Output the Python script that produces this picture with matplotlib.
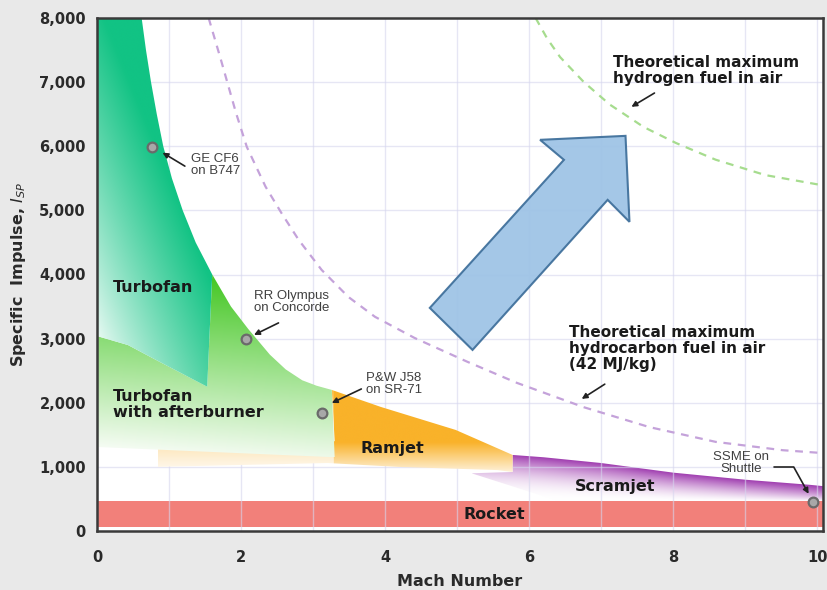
import numpy as np
import matplotlib
matplotlib.use("Agg")
import matplotlib.pyplot as plt
from matplotlib.patches import Polygon
from matplotlib.ticker import FuncFormatter, MultipleLocator

# ---------------- data ----------------
# upper envelope of turbofan / turbofan-with-afterburner
envelope_mach = [0.62, 0.68, 0.75, 0.83, 0.92, 1.04, 1.19, 1.37, 1.60, 1.86, 2.10, 2.40, 2.62, 2.85, 3.05, 3.26]
envelope_isp = [8000, 7500, 7000, 6500, 6000, 5500, 5000, 4500, 4000, 3500, 3150, 2750, 2520, 2350, 2265, 2200]
N_TURBOFAN = 9  # first points belong to the plain turbofan zone
# boundary between turbofan and afterburner zones
divide_mach = [0.0, 0.43, 0.90, 1.35, 1.53]
divide_isp = [3040, 2900, 2620, 2355, 2250]
# lower edge of afterburner zone
ab_bottom_mach = [3.30, 0.0]
ab_bottom_isp = [1150, 1310]
# ramjet
ramjet_top_mach = [3.26, 3.94, 4.98, 5.77]
ramjet_top_isp = [2200, 1935, 1576, 1186]
ramjet_bottom_mach = [5.77, 5.56, 4.18, 3.20, 0.84]
ramjet_bottom_isp = [920, 950, 1000, 1060, 1000]
# scramjet
scram_top_mach = [5.77, 6.2, 7.0, 8.0, 9.0, 9.9, 10.08]
scram_top_isp = [1186, 1150, 1060, 910, 800, 720, 700]
scram_bottom_mach = [10.08, 6.4, 5.2, 5.77]
scram_bottom_isp = [470, 470, 900, 920]
# rocket band
rocket_isp = [60, 470]
rocket_mach = [0.0, 10.08]
# theoretical maxima
hydrocarbon_mach = [1.55, 1.72, 1.93, 2.08, 2.34, 2.56, 2.80, 3.12, 3.49, 3.86, 4.41, 5.14, 5.83, 6.76, 7.67, 8.59, 9.52, 10.08]
hydrocarbon_isp = [8000, 7350, 6520, 5990, 5370, 4960, 4540, 4070, 3650, 3340, 3010, 2640, 2310, 1930, 1620, 1390, 1260, 1215]
hydrogen_mach = [6.09, 6.25, 6.43, 6.76, 7.12, 7.59, 8.04, 8.59, 9.28, 10.08]
hydrogen_isp = [8000, 7680, 7390, 7000, 6650, 6300, 6050, 5790, 5550, 5390]
# engines
engine_names = ["GE CF6\non B747", "RR Olympus\non Concorde", "P&W J58\non SR-71", "SSME on\nShuttle"]
engine_mach = [0.76, 2.07, 3.13, 9.94]
engine_isp = [5990, 2995, 1841, 452]

x_ticks = [0, 2, 4, 6, 8, 10]
y_ticks = [0, 1000, 2000, 3000, 4000, 5000, 6000, 7000, 8000]

# ---------------- figure ----------------
fig = plt.figure(figsize=(8.27, 5.90), dpi=100, facecolor="#e9e9e9")
ax = fig.add_axes([97 / 827, 1 - 531 / 590, (823 - 97) / 827, (531 - 18) / 590])
ax.set_facecolor("white")


def gradient_region(verts, rgb, tfun, z):
    verts = np.asarray(verts, dtype=float)
    poly = Polygon(verts, closed=True, fc="none", ec="none")
    ax.add_patch(poly)
    x0, y0 = verts.min(0)
    x1, y1 = verts.max(0)
    X, Y = np.meshgrid(np.linspace(x0, x1, 500), np.linspace(y0, y1, 500))
    t = np.clip(tfun(X, Y), 0, 1)[..., None]
    col = np.array(rgb, dtype=float) / 255.0
    img = 1 - t * (1 - col)
    im = ax.imshow(img, extent=(x0, x1, y0, y1), origin="lower", aspect="auto",
                   zorder=z, interpolation="bilinear")
    im.set_clip_path(poly)


# rocket
ax.fill_between(rocket_mach, rocket_isp[0], rocket_isp[1], color="#f2807a", lw=0, zorder=2)

# ramjet (beneath afterburner)
ramjet_verts = ([(ramjet_bottom_mach[-1], 1400), (3.30, 1400)]
                + list(zip(ramjet_top_mach, ramjet_top_isp))
                + list(zip(ramjet_bottom_mach, ramjet_bottom_isp)))
gradient_region(ramjet_verts, (249, 178, 42),
                lambda X, Y: (Y - 820) / 560 * np.where(X < 3.28, 0.35, 1.0), 3)

# scramjet
scram_verts = list(zip(scram_top_mach, scram_top_isp)) + list(zip(scram_bottom_mach, scram_bottom_isp))


def scram_t(X, Y):
    top = np.interp(X, scram_top_mach, scram_top_isp)
    r = np.clip((Y - 470) / (top - 470), 0, 1)
    p = np.clip(2.2 - 0.35 * (X - 6), 0.6, 2.6)
    return r ** p


gradient_region(scram_verts, (160, 62, 176), scram_t, 2.5)

# turbofan with afterburner
ab_verts = (list(zip(divide_mach, divide_isp))
            + list(zip(envelope_mach[N_TURBOFAN - 1:], envelope_isp[N_TURBOFAN - 1:]))
            + list(zip(ab_bottom_mach, ab_bottom_isp)))
gradient_region(ab_verts, (72, 200, 40), lambda X, Y: (Y - 1150) / 2900 + 0.03 * X, 4)

# turbofan
tf_verts = ([(0.0, 8000)] + list(zip(envelope_mach[:N_TURBOFAN], envelope_isp[:N_TURBOFAN]))
            + list(zip(divide_mach[::-1], divide_isp[::-1])))
gradient_region(tf_verts, (18, 195, 132),
                lambda X, Y: np.clip((Y - 2750) / 5500 + 0.5 * X, 0, 1) ** 0.8, 5)

# theoretical lines
ax.plot(hydrocarbon_mach, hydrocarbon_isp, color="#c4a2da", lw=1.6, dashes=(3.5, 3), zorder=6)
ax.plot(hydrogen_mach, hydrogen_isp, color="#a6dc8e", lw=1.6, dashes=(3.5, 3), zorder=6)

# big blue arrow (decoration)
arrow_verts = [(7.338, 6162), (6.152, 6100), (6.483, 5788), (4.621, 3479),
               (5.214, 2824), (7.090, 5164), (7.393, 4821)]
ax.add_patch(Polygon(arrow_verts, closed=True, fc="#9fc4e6", ec="#41719c", lw=1.5,
                     alpha=0.95, zorder=7))

# engines
ax.plot(engine_mach, engine_isp, "o", ms=7, mfc="#a8a8a8", mec="#6a6a6a", mew=1.6, zorder=9, clip_on=False)

ann_kw = dict(fontsize=9.5, color="#404040", family=["Liberation Sans", "DejaVu Sans"],
              linespacing=1.0, zorder=10)
arr = dict(arrowstyle="-|>", color="#222222", lw=1.2, mutation_scale=8, shrinkA=0, shrinkB=0)

ax.text(1.30, 5700, engine_names[0], ha="left", va="center", **ann_kw)
ax.annotate("", xy=(0.91, 5900), xytext=(1.22, 5690), arrowprops=arr, zorder=10)
ax.text(2.18, 3565, engine_names[1], ha="left", va="center", **ann_kw)
ax.annotate("", xy=(2.18, 3058), xytext=(2.52, 3245), arrowprops=arr, zorder=10)
ax.text(3.74, 2300, engine_names[2], ha="left", va="center", **ann_kw)
ax.annotate("", xy=(3.26, 1997), xytext=(3.67, 2215), arrowprops=arr, zorder=10)
ax.text(8.94, 1060, engine_names[3], ha="center", va="center", **ann_kw)
arr2 = dict(arr)
arr2["connectionstyle"] = "angle,angleA=0,angleB=-61,rad=0"
ax.annotate("", xy=(9.88, 580), xytext=(9.40, 998), arrowprops=arr2, zorder=10)

# region labels
lab_kw = dict(fontsize=11.5, fontweight="bold", color="#1a1a1a", zorder=10, linespacing=1.15)
ax.text(0.22, 3790, "Turbofan", ha="left", va="center", **lab_kw)
ax.text(0.22, 1973, "Turbofan\nwith afterburner", ha="left", va="center", **lab_kw)
ax.text(4.10, 1280, "Ramjet", ha="center", va="center", **lab_kw)
ax.text(7.19, 690, "Scramjet", ha="center", va="center", **lab_kw)
ax.text(5.51, 265, "Rocket", ha="center", va="center", **lab_kw)

th_kw = dict(fontsize=11, fontweight="bold", color="#1a1a1a", zorder=10, linespacing=1.1)
ax.text(7.17, 7180, "Theoretical maximum\nhydrogen fuel in air", ha="left", va="center", **th_kw)
ax.annotate("", xy=(7.42, 6615), xytext=(7.74, 6830), arrowprops=arr, zorder=10)
ax.text(6.55, 2850, "Theoretical maximum\nhydrocarbon fuel in air\n(42 MJ/kg)", ha="left", va="center", **th_kw)
ax.annotate("", xy=(6.73, 2060), xytext=(7.05, 2290), arrowprops=arr, zorder=10)

# axes styling
ax.set_xlim(0, 10.08)
ax.set_ylim(0, 8000)
ax.set_xticks(x_ticks)
ax.set_yticks(y_ticks)
ax.xaxis.set_minor_locator(MultipleLocator(1))
ax.yaxis.set_major_formatter(FuncFormatter(lambda v, p: f"{int(v):,}"))
ax.grid(True, which="both", color="#d6d6ee", lw=1.0, alpha=0.6, zorder=8)
ax.set_axisbelow(False)
ax.tick_params(which="both", length=0)
ax.tick_params(axis="x", pad=14, labelsize=10.5, labelcolor="#2a2a2a")
ax.tick_params(axis="y", pad=8, labelsize=10.5, labelcolor="#2a2a2a")
for lbl in ax.get_xticklabels() + ax.get_yticklabels():
    lbl.set_fontweight("bold")
for s in ax.spines.values():
    s.set_color("#3a3a3a")
    s.set_linewidth(1.8)
    s.set_zorder(11)

ax.set_xlabel("Mach Number", fontsize=11.5, fontweight="bold", color="#2a2a2a", labelpad=6)
ax.set_ylabel(r"Specific  Impulse, $I_{SP}$", fontsize=11.5, fontweight="bold", color="#2a2a2a", labelpad=8)

fig.savefig("out.png", dpi=100, facecolor=fig.get_facecolor())
